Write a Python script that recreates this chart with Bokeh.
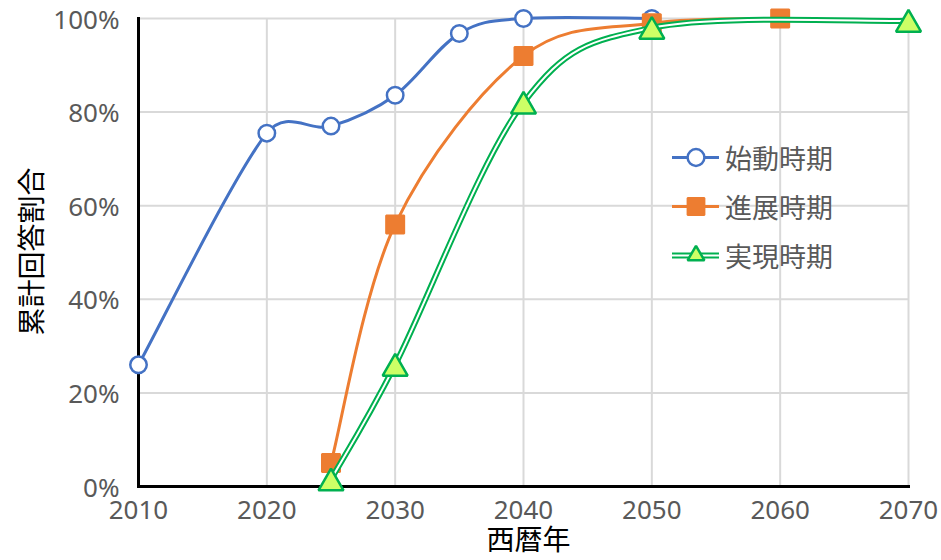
import numpy as np
from bokeh.plotting import figure
from bokeh.models import (FixedTicker, Legend, LegendItem, Range1d,
                          PrintfTickFormatter, ColumnDataSource)
from bokeh.transform import dodge
from bokeh.embed import file_html
from bokeh.resources import INLINE

# ---------------- data ----------------
series_names = ["始動時期", "進展時期", "実現時期"]

years_start = [2010, 2020, 2025, 2030, 2035, 2040, 2050]
share_start = [26, 75.5, 77, 83.6, 96.8, 100, 100]

years_progress = [2025, 2030, 2040, 2050, 2060]
share_progress = [5, 56, 92, 99, 100]

years_real = [2025, 2030, 2040, 2050, 2070]
share_real = [1.5, 26, 82, 98, 99.5]

x_ticks = [2010, 2020, 2030, 2040, 2050, 2060, 2070]
y_ticks = [0, 20, 40, 60, 80, 100]

x_title = "西暦年"
y_title = "累計回答割合"

# ---------------- styles ----------------
BLUE = "#4472C4"
ORANGE = "#ED7D31"
GREEN = "#00B050"
TRI_FILL = "#CCFF66"
GRID = "#D9D9D9"
TICK_COLOR = "#595959"
JP_FONT = "Noto Sans CJK JP"
NUM_FONT = "Noto Sans"

W, H = 941, 560
B_LEFT, B_RIGHT, B_TOP, B_BOTTOM = 123, 8, 4, 61
PX_X = 770 / 60.0     # pixels per year
PX_Y = 469 / 100.0    # pixels per percent


def smooth_segments(xs, ys, tension=1 / 6.0, cap=0.5):
    """Excel-like smoothed line: cubic Bezier segments (screen-space arms)."""
    x = np.asarray(xs, float) * PX_X
    y = np.asarray(ys, float) * PX_Y
    px = np.concatenate([[x[0]], x, [x[-1]]])
    py = np.concatenate([[y[0]], y, [y[-1]]])
    out = dict(x0=[], y0=[], x1=[], y1=[], cx0=[], cy0=[], cx1=[], cy1=[])
    for i in range(len(x) - 1):
        p0 = np.array([px[i], py[i]]); p1 = np.array([px[i + 1], py[i + 1]])
        p2 = np.array([px[i + 2], py[i + 2]]); p3 = np.array([px[i + 3], py[i + 3]])
        seg = np.hypot(*(p2 - p1))
        a1 = (p2 - p0) * tension
        a2 = (p3 - p1) * tension
        for a in (a1, a2):
            L = np.hypot(*a)
            if L > cap * seg and L > 0:
                a *= cap * seg / L
        c1 = p1 + a1
        c2 = p2 - a2
        out["x0"].append(p1[0] / PX_X); out["y0"].append(p1[1] / PX_Y)
        out["x1"].append(p2[0] / PX_X); out["y1"].append(p2[1] / PX_Y)
        out["cx0"].append(c1[0] / PX_X); out["cy0"].append(c1[1] / PX_Y)
        out["cx1"].append(c2[0] / PX_X); out["cy1"].append(c2[1] / PX_Y)
    return out


frame_w = W - B_LEFT - B_RIGHT
frame_h = H - B_TOP - B_BOTTOM
x0_px = 138 - B_LEFT               # 2010 sits 15px inside the frame
y0_px = 499 - 487                  # 0% sits 12px above frame bottom
x_start = x_ticks[0] - x0_px / PX_X
x_end = x_start + frame_w / PX_X
y_start = y_ticks[0] - y0_px / PX_Y
y_end = y_start + frame_h / PX_Y

p = figure(width=W, height=H, output_backend="svg", toolbar_location=None,
           x_range=Range1d(x_start, x_end), y_range=Range1d(y_start, y_end),
           min_border_left=B_LEFT, min_border_right=B_RIGHT,
           min_border_top=B_TOP, min_border_bottom=B_BOTTOM)
p.outline_line_color = None
p.background_fill_color = "white"
p.xgrid.visible = False
p.ygrid.visible = False

for ax in (p.xaxis[0], p.yaxis[0]):
    ax.axis_line_color = None
    ax.major_tick_line_color = None
    ax.minor_tick_line_color = None
    ax.major_tick_out = 0
    ax.major_tick_in = 0
    ax.minor_tick_out = 0
    ax.major_label_text_color = TICK_COLOR
    ax.major_label_text_font = NUM_FONT
    ax.major_label_text_font_size = "26px"
    ax.axis_label_text_font = JP_FONT
    ax.axis_label_text_font_size = "28px"
    ax.axis_label_text_font_style = "normal"
    ax.axis_label_text_color = "#000000"
p.xaxis.ticker = FixedTicker(ticks=x_ticks)
p.yaxis.ticker = FixedTicker(ticks=y_ticks)
p.yaxis.formatter = PrintfTickFormatter(format="%d%%")
p.xaxis.major_label_standoff = 2
p.yaxis.major_label_standoff = 4

p.yaxis.axis_label = y_title
p.yaxis.axis_label_standoff = 0
p.xaxis.axis_label = x_title
p.xaxis.axis_label_standoff = -4

# gridlines from tick arrays
p.segment(x0=x_ticks, y0=[y_ticks[0]] * len(x_ticks), x1=x_ticks,
          y1=[y_ticks[-1]] * len(x_ticks), line_color=GRID, line_width=2)
p.segment(x0=[x_ticks[0]] * len(y_ticks), y0=y_ticks, x1=[x_ticks[-1]] * len(y_ticks),
          y1=y_ticks, line_color=GRID, line_width=2)
# axis lines
p.segment(x0=[x_ticks[0], x_ticks[0]], y0=[y_ticks[0], y_ticks[0]],
          x1=[x_ticks[0], x_ticks[-1]], y1=[y_ticks[-1], y_ticks[0]],
          line_color="black", line_width=3, line_cap="square")

# series 1: 始動時期
s = smooth_segments(years_start, share_start)
r_b_line = p.bezier(line_color=BLUE, line_width=3, line_cap="round", **s)
r_b_pts = p.scatter(years_start, share_start, marker="circle", size=16.5,
                    fill_color="white", line_color=BLUE, line_width=2.5)

# series 2: 進展時期
s = smooth_segments(years_progress, share_progress)
r_o_line = p.bezier(line_color=ORANGE, line_width=3, line_cap="round", **s)
r_o_pts = p.scatter(years_progress, share_progress, marker="square", size=18,
                    fill_color=ORANGE, line_color=ORANGE, line_width=2)

# series 3: 実現時期 (double line)
s = smooth_segments(years_real, share_real)
r_g_line = p.bezier(line_color=GREEN, line_width=6, line_cap="round", **s)
r_g_inner = p.bezier(line_color="white", line_width=2, line_cap="round", **s)
TRI_SIZE = 25
tri_src = ColumnDataSource(dict(x=years_real, y=share_real))
# centre the triangle's bounding box on the value (like the spreadsheet marker)
tri_shift = -(TRI_SIZE * np.sqrt(3) / 2 / 6) / PX_Y
r_g_pts = p.scatter(x="x", y=dodge("y", tri_shift, range=p.y_range), source=tri_src,
                    marker="triangle", size=TRI_SIZE,
                    fill_color=TRI_FILL, line_color=GREEN, line_width=2.5)

legend = Legend(items=[
    LegendItem(label=series_names[0], renderers=[r_b_line, r_b_pts]),
    LegendItem(label=series_names[1], renderers=[r_o_line, r_o_pts]),
    LegendItem(label=series_names[2], renderers=[r_g_line, r_g_inner, r_g_pts]),
], location=(549, 222), glyph_width=47, glyph_height=42, spacing=7,
    label_standoff=6, padding=0, margin=0, border_line_color=None,
    background_fill_alpha=0, label_text_font=JP_FONT,
    label_text_font_size="27px", label_text_color=TICK_COLOR)
p.add_layout(legend)

open("out.html", "w").write(file_html(p, INLINE))
